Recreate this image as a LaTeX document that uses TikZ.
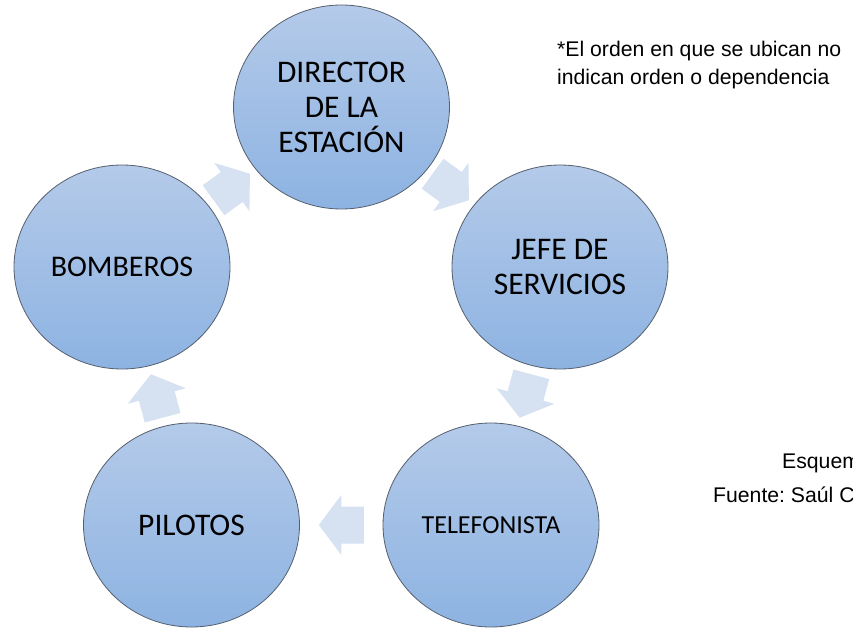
\documentclass[tikz,border=0pt]{standalone}
\usepackage{fontspec}
\newfontfamily\carlito{Carlito}
\newfontfamily\arialf{Liberation Sans}
\usetikzlibrary{shapes.geometric,calc}
\frenchspacing
\definecolor{circtop}{RGB}{180,202,233}
\definecolor{circbot}{RGB}{141,179,226}
\definecolor{circline}{RGB}{85,95,110}
\definecolor{arrowfill}{RGB}{214,226,242}
\tikzset{
  stage/.style={ellipse, minimum width=216pt, minimum height=204pt, inner sep=0pt,
    draw=circline, line width=0.8pt, top color=circtop, bottom color=circbot,
    align=center, text=black, font=\carlito\fontsize{31.5}{35}\selectfont},
  cyclearrow/.style={fill=arrowfill, draw=none},
  note/.style={anchor=base west, inner sep=0pt, text=black, font=\arialf\fontsize{21.2}{27}\selectfont}
}
\newcommand{\cyclearr}[3]{%
  \coordinate (#1-#2) at ($(#1)!0.5!(#2)$);
  \fill[cyclearrow, shift={(#1-#2)}, rotate=#3]
    (-22.5,-18.5) -- (0,-18.5) -- (0,-30) -- (22.5,0) -- (0,30) -- (0,18.5) -- (-22.5,18.5) -- cycle;
}
\begin{document}
\begin{tikzpicture}[x=1pt,y=-1pt]
\useasboundingbox (0,0) rectangle (853,628);
\node[stage] (dir) at (341.5,107) {DIRECTOR\\DE LA\\ESTACIÓN};
\node[stage] (jefe) at (560,267) {JEFE DE\\SERVICIOS};
\node[stage, font=\carlito\fontsize{26}{31}\selectfont] (tel) at (491,525) {TELEFONISTA};
\node[stage] (pil) at (191.5,525) {PILOTOS};
\node[stage, font=\carlito\fontsize{30}{35}\selectfont] (bom) at (122,267) {BOMBEROS};
\cyclearr{dir}{jefe}{-36.2}
\cyclearr{jefe}{tel}{-105}
\cyclearr{tel}{pil}{180}
\cyclearr{pil}{bom}{105}
\cyclearr{bom}{dir}{36.1}
\node[note] (n1) at (557,57) {*El orden en que se ubican no};
\node[note] (n2) at (557,85) {indican orden o dependencia};
\node[note] (n3) at (782,468) {Esquem};
\node[note] (n4) at (713,502) {Fuente: Saúl C};
\end{tikzpicture}
\end{document}
